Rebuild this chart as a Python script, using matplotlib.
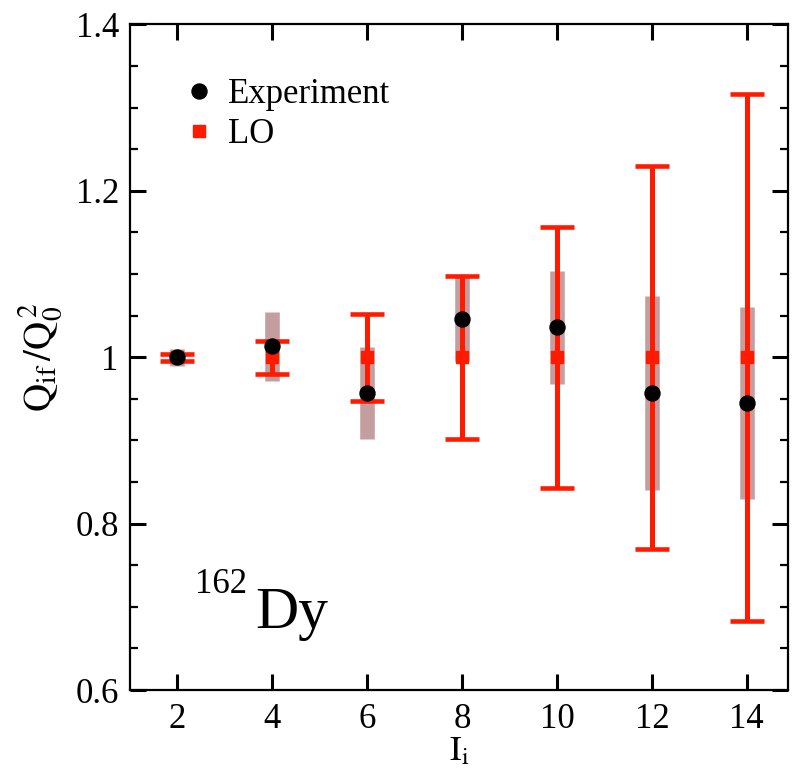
import numpy as np
import matplotlib
matplotlib.use('Agg')
import matplotlib.pyplot as plt
from matplotlib.lines import Line2D

plt.rcParams['font.family'] = ['Liberation Serif', 'DejaVu Serif']
plt.rcParams['mathtext.fontset'] = 'stix'

# spins
spin = [2, 4, 6, 8, 10, 12, 14]

# experiment: ratio and its error (grey bars)
exp_val = [1.000, 1.013, 0.957, 1.046, 1.036, 0.957, 0.945]
exp_err = [0.010, 0.041, 0.055, 0.051, 0.068, 0.117, 0.115]

# LO: ratio and its error (red bars)
lo_val = [1.0, 1.0, 1.0, 1.0, 1.0, 1.0, 1.0]
lo_err = [0.004, 0.020, 0.052, 0.098, 0.157, 0.230, 0.317]

red = '#ff1a00'

fig = plt.figure(figsize=(7.94, 7.72), dpi=100)
ax = fig.add_axes([0.1637, 0.1062, 0.8287, 0.8621])

spin = np.array(spin)
exp_val = np.array(exp_val)
exp_err = np.array(exp_err)

# grey experimental uncertainty bands
ax.vlines(spin, exp_val - exp_err, exp_val + exp_err, color='#c49e9e',
          linewidth=10.5, zorder=1)

# LO with error bars
ax.errorbar(spin, lo_val, yerr=lo_err, fmt='s', color=red, ms=8.5,
            elinewidth=3.6, capsize=12.2, capthick=3.3, zorder=2)

# experiment points
ax.plot(spin, exp_val, 'o', color='black', ms=10.8, zorder=3)

ax.set_xlim(1, 14.87)
ax.set_ylim(0.6, 1.4)
ax.set_xticks(spin)
ax.set_yticks([0.6, 0.8, 1.0, 1.2, 1.4])
ax.set_yticklabels(['0.6', '0.8', '1', '1.2', '1.4'])
ax.set_yticks(np.arange(0.6, 1.401, 0.05), minor=True)

ax.tick_params(which='both', direction='in', top=True, right=True,
               labelsize=25)
ax.tick_params(which='major', length=11.5, width=2.2)
ax.tick_params(which='minor', length=6, width=1.6)
ax.tick_params(axis='y', pad=8)
ax.tick_params(axis='x', pad=9)
for s in ax.spines.values():
    s.set_linewidth(1.6)

ax.set_xlabel(r'$\mathrm{I_i}$', fontsize=25, labelpad=0)
ax.set_ylabel(r'$\mathrm{Q_{if}\,/Q_0^{\,2}}$', fontsize=28, labelpad=8)

# legend
h_exp = Line2D([], [], ls='none', marker='o', color='black', ms=10.8)
h_lo = Line2D([], [], ls='none', marker='s', color=red, ms=8.5)
ax.legend([h_exp, h_lo], ['Experiment', 'LO'], loc='upper left',
          bbox_to_anchor=(0.036, 0.967), frameon=False, fontsize=25,
          handlelength=0.8, handletextpad=0.45, labelspacing=0.22,
          numpoints=1)

ax.text(2.37, 0.717, '162', fontsize=25, va='baseline', ha='left')
ax.text(3.64, 0.674, 'Dy', fontsize=43, va='baseline', ha='left')

fig.savefig('out.png', dpi=100)
